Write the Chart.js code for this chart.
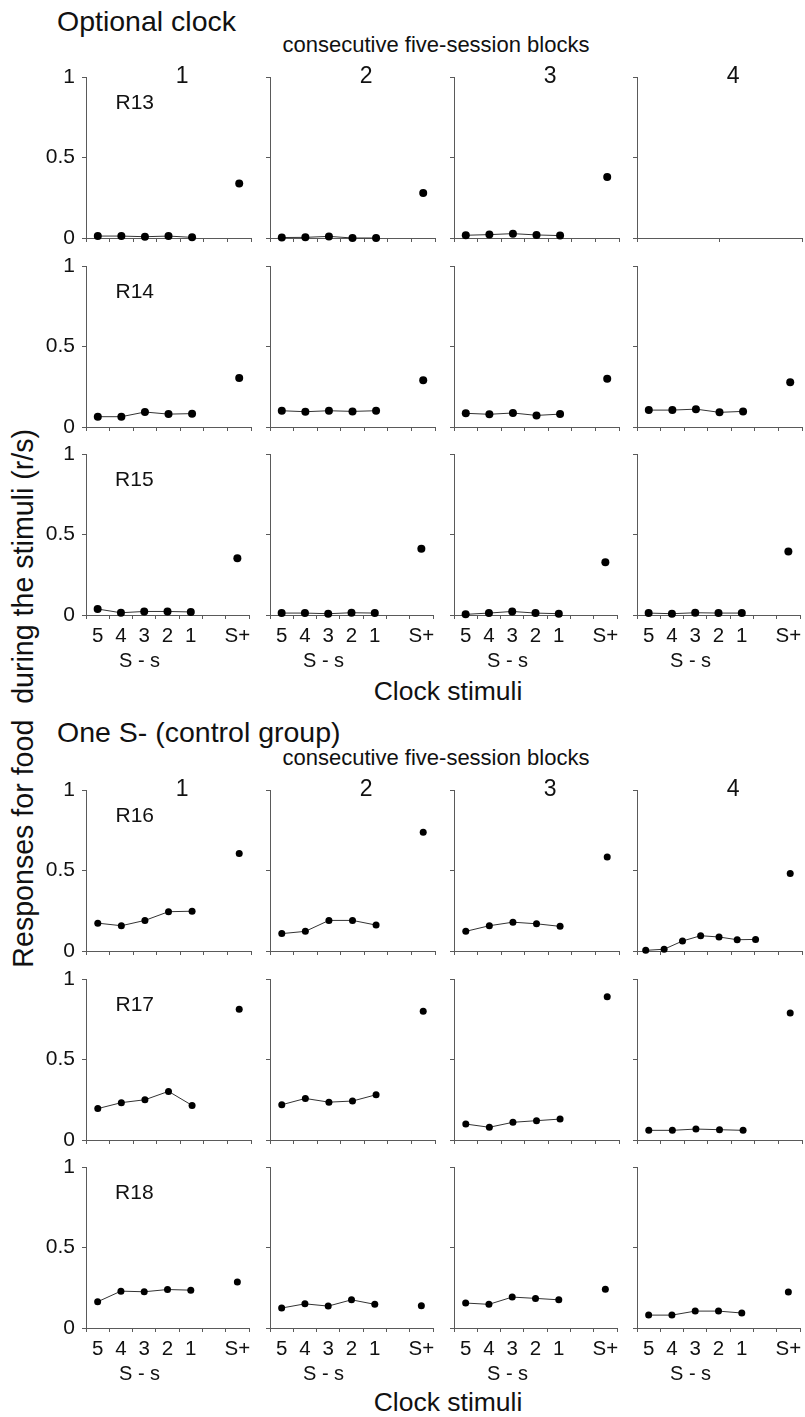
<!DOCTYPE html>
<html><head><meta charset="utf-8">
<script src="https://cdn.jsdelivr.net/npm/chart.js@4.4.1/dist/chart.umd.min.js"></script>
<style>
html,body{margin:0;padding:0;background:#fff;}
body{width:805px;height:1417px;position:relative;overflow:hidden;font-family:'Liberation Sans',Arial,Helvetica,sans-serif;color:#111;}
.t{position:absolute;white-space:nowrap;line-height:1;}
.panel{position:absolute;}
</style></head><body>
<div class="t" style="left:57px;top:7px;font-size:28.5px">Optional clock</div>
<div class="t" style="left:236px;width:400px;text-align:center;top:34px;font-size:22px">consecutive five-session blocks</div>
<div class="t" style="left:248px;width:400px;text-align:center;top:678px;font-size:26.5px">Clock stimuli</div>
<div class="t" style="left:57px;top:718px;font-size:28.5px">One S- (control group)</div>
<div class="t" style="left:236px;width:400px;text-align:center;top:747px;font-size:22px">consecutive five-session blocks</div>
<div class="t" style="left:248px;width:400px;text-align:center;top:1389px;font-size:26.5px">Clock stimuli</div>
<div class="t" style="left:-277px;width:600px;text-align:center;top:684px;font-size:28.6px;transform:rotate(-90deg);transform-origin:50% 50%">Responses for food&nbsp; during the stimuli (r/s)</div>
<script>
// ---------------- data ----------------
const blockLabels = ['1', '2', '3', '4'];
const sMinusTickLabels = ['5', '4', '3', '2', '1'];
const sPlusTickLabel = 'S+';
const ratsOptional = ['R13', 'R14', 'R15'];
const ratsControl = ['R16', 'R17', 'R18'];

const R13_sMinus = [[0.012, 0.012, 0.008, 0.012, 0.004], [0.003, 0.004, 0.010, 0.000, 0.000], [0.017, 0.021, 0.027, 0.019, 0.015], null];
const R13_sPlus = [0.338, 0.280, 0.379, null];
const R14_sMinus = [[0.064, 0.064, 0.093, 0.080, 0.083], [0.101, 0.095, 0.101, 0.097, 0.101], [0.085, 0.079, 0.087, 0.072, 0.080], [0.105, 0.105, 0.111, 0.091, 0.097]];
const R14_sPlus = [0.305, 0.291, 0.299, 0.278];
const R15_sMinus = [[0.037, 0.014, 0.022, 0.022, 0.019], [0.012, 0.012, 0.008, 0.014, 0.012], [0.004, 0.012, 0.022, 0.012, 0.008], [0.012, 0.008, 0.014, 0.012, 0.012]];
const R15_sPlus = [0.353, 0.412, 0.328, 0.395];
const R16_sMinus = [[0.173, 0.157, 0.190, 0.244, 0.247], [0.108, 0.122, 0.190, 0.190, 0.161], [0.122, 0.157, 0.179, 0.169, 0.153], [0.004, 0.011, 0.062, 0.095, 0.087, 0.070, 0.072]];
const R16_sPlus = [0.606, 0.738, 0.584, 0.481];
// block 4 of R16 has seven S- points, placed on the same 0..7 slot axis
const R16_block4_sMinusSlots = [0.37, 1.15, 1.93, 2.70, 3.48, 4.25, 5.03];
const R17_sMinus = [[0.195, 0.232, 0.250, 0.302, 0.215], [0.219, 0.258, 0.235, 0.242, 0.281], [0.099, 0.079, 0.110, 0.120, 0.130], [0.060, 0.060, 0.068, 0.064, 0.060]];
const R17_sPlus = [0.812, 0.799, 0.890, 0.789];
const R18_sMinus = [[0.163, 0.229, 0.225, 0.239, 0.235], [0.124, 0.150, 0.136, 0.175, 0.147], [0.155, 0.147, 0.192, 0.184, 0.175], [0.080, 0.080, 0.105, 0.105, 0.093]];
const R18_sPlus = [0.286, 0.138, 0.241, 0.224];
const yTickValues = [0, 0.5, 1];

// ---------------- layout ----------------
const FONT = "'Liberation Sans', Arial, Helvetica, sans-serif";
Chart.defaults.font.family = FONT;
Chart.defaults.color = '#111';
const AXIS = '#5a5a5a';
const COL_LEFT = [86, 270, 454, 637];
const GROUP_ROW_TOP = [[77, 266, 454], [790, 979, 1167]];
const PLOT_W = 165, PLOT_H = 161;
const PADL = 60, PADT = 22, PADB = 60, PADR = 3;

const series = {
  R13: [R13_sMinus, R13_sPlus], R14: [R14_sMinus, R14_sPlus], R15: [R15_sMinus, R15_sPlus],
  R16: [R16_sMinus, R16_sPlus], R17: [R17_sMinus, R17_sPlus], R18: [R18_sMinus, R18_sPlus]
};

const panelText = {
  id: 'panelText',
  afterDraw(chart, args, o) {
    const { ctx, scales: { x, y } } = chart;
    ctx.save();
    ctx.fillStyle = '#111';
    ctx.textBaseline = 'middle';
    if (o.rat) {
      ctx.font = '21px ' + FONT;
      ctx.textAlign = 'left';
      ctx.fillText(o.rat, x.getPixelForValue(1.25), y.getPixelForValue(0.84));
    }
    if (o.block) {
      ctx.font = '23px ' + FONT;
      ctx.textAlign = 'center';
      ctx.fillText(o.block, x.getPixelForValue(4.08), y.getPixelForValue(1));
    }
    if (o.ss) {
      ctx.font = '20px ' + FONT;
      ctx.textAlign = 'center';
      ctx.fillText('S - s', x.getPixelForValue(2.3), chart.chartArea.bottom + 46);
    }
    ctx.restore();
  }
};

function makePanel(left, top, cfg) {
  const W = PADL + PLOT_W + PADR, H = PADT + PLOT_H + PADB;
  const div = document.createElement('div');
  div.className = 'panel';
  div.style.left = (left - PADL) + 'px';
  div.style.top = (top - PADT) + 'px';
  div.style.width = W + 'px';
  div.style.height = H + 'px';
  const c = document.createElement('canvas');
  c.width = W; c.height = H;
  c.style.width = W + 'px'; c.style.height = H + 'px';
  div.appendChild(c);
  document.body.appendChild(div);

  const datasets = [];
  const r = cfg.radius;
  if (cfg.sMinus) {
    const slots = cfg.sMinus.length === 5 ? cfg.sMinus.map((v, i) => i + 0.5) : R16_block4_sMinusSlots;
    datasets.push({
      data: cfg.sMinus.map((v, i) => ({ x: slots[i], y: v })),
      showLine: true, borderColor: '#333', borderWidth: 1, tension: 0,
      pointRadius: r, pointBackgroundColor: '#000', pointBorderWidth: 0, clip: false
    });
  }
  if (cfg.sPlus != null) {
    datasets.push({
      data: [{ x: 6.5, y: cfg.sPlus }],
      showLine: false, pointRadius: r, pointBackgroundColor: '#000', pointBorderWidth: 0, clip: false
    });
  }
  const empty = !cfg.sMinus;
  const xTicks = empty ? [0, 3.5, 7] : [0, 0.5, 1, 1.5, 2, 2.5, 3, 3.5, 4, 4.5, 5, 5.5, 6, 6.5, 7];
  const markVals = empty ? new Set([0, 3.5, 7]) : new Set([0, 1, 2, 3, 4, 5, 6, 7]);
  const labelFor = v => {
    if (empty) return '';
    if (v === 6.5) return sPlusTickLabel;
    if (v % 1 === 0.5 && v < 5) return sMinusTickLabels[Math.floor(v)];
    return '';
  };

  new Chart(c, {
    type: 'scatter',
    data: { datasets },
    plugins: [panelText],
    options: {
      responsive: false, animation: false, events: [],
      layout: { padding: { top: PADT, right: PADR, left: 0, bottom: 0 }, autoPadding: false },
      plugins: { legend: { display: false }, tooltip: { enabled: false },
        panelText: { rat: cfg.rat, block: cfg.block, ss: cfg.showX } },
      scales: {
        x: {
          type: 'linear', min: 0, max: 7,
          afterBuildTicks: s => { s.ticks = xTicks.map(v => ({ value: v })); },
          afterFit: s => { s.height = PADB; },
          ticks: { display: cfg.showX, autoSkip: false, maxRotation: 0, minRotation: 0, padding: 5,
            font: { size: 20.5 }, color: '#111', callback: v => labelFor(v) },
          grid: { drawOnChartArea: false, drawTicks: true, tickLength: 4, lineWidth: 1,
            color: ctx => (ctx.tick && markVals.has(ctx.tick.value)) ? AXIS : 'rgba(0,0,0,0)' },
          border: { display: true, color: AXIS, width: 1 }
        },
        y: {
          type: 'linear', min: 0, max: 1,
          afterBuildTicks: s => { s.ticks = yTickValues.map(v => ({ value: v })); },
          afterFit: s => { s.width = PADL; },
          ticks: { display: cfg.showY, padding: 7, font: { size: 21 }, color: '#111',
            callback: v => (v === 0.5 ? '0.5' : String(v)) },
          grid: { drawOnChartArea: false, drawTicks: true, tickLength: 4, lineWidth: 1, color: AXIS },
          border: { display: true, color: AXIS, width: 1 }
        }
      }
    }
  });
}

[ratsOptional, ratsControl].forEach((rats, g) => {
  rats.forEach((rat, ri) => {
    const [sm, sp] = series[rat];
    blockLabels.forEach((b, bi) => {
      makePanel(COL_LEFT[bi], GROUP_ROW_TOP[g][ri], {
        sMinus: sm[bi], sPlus: sp[bi],
        rat: bi === 0 ? rat : null,
        block: ri === 0 ? b : null,
        showX: ri === rats.length - 1,
        showY: bi === 0,
        radius: g === 0 ? 4 : 3.5
      });
    });
  });
});
</script>
</body></html>
